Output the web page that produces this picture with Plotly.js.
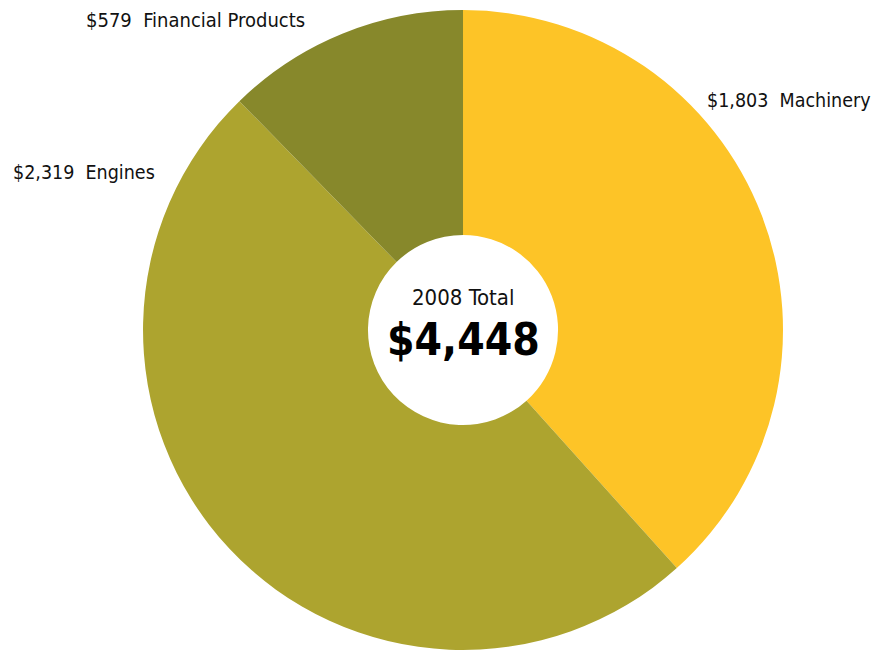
<!DOCTYPE html>
<html>
<head>
<meta charset="utf-8">
<script src="https://cdn.plot.ly/plotly-3.0.1.min.js"></script>
<style>html,body{margin:0;padding:0;background:#fff;}#chart{width:878px;height:650px;}</style>
</head>
<body>
<div id="chart"></div>
<script>
const segments = ["Machinery", "Engines", "Financial Products"];
const values = [1803, 2319, 579];
const valueLabels = ["$1,803", "$2,319", "$579"];
const colors = ["#FDC427", "#ADA42F", "#87882B"];
const totalYear = "2008 Total";
const totalLabel = "$4,448";

const FONT = "'Liberation Sans Narrow', 'DejaVu Sans Condensed', Roboto, sans-serif";

const trace = {
  type: "pie",
  labels: segments,
  values: values,
  sort: false,
  direction: "clockwise",
  rotation: 0,
  hole: 0.297,
  marker: {colors: colors, line: {width: 0}},
  textinfo: "none",
  hoverinfo: "label+value",
  showlegend: false,
  domain: {x: [0.1629, 0.8918], y: [0, 0.9846]}
};

const layout = {
  width: 878, height: 650,
  margin: {l: 0, r: 0, t: 0, b: 0},
  paper_bgcolor: "#ffffff",
  plot_bgcolor: "#ffffff",
  font: {family: FONT, color: "#111"},
  annotations: [
    {xref: "paper", yref: "paper", x: 873/878, y: 1 - 101/650, xanchor: "right", yanchor: "middle",
     text: valueLabels[0] + "  " + segments[0], showarrow: false, font: {size: 19.5, family: FONT, color: "#111"}},
    {xref: "paper", yref: "paper", x: 11/878, y: 1 - 172/650, xanchor: "left", yanchor: "middle",
     text: valueLabels[1] + "  " + segments[1], showarrow: false, font: {size: 19.5, family: FONT, color: "#111"}},
    {xref: "paper", yref: "paper", x: 84/878, y: 1 - 20/650, xanchor: "left", yanchor: "middle",
     text: valueLabels[2] + "  " + segments[2], showarrow: false, font: {size: 20, family: FONT, color: "#111"}},
    {xref: "paper", yref: "paper", x: 463/878, y: 1 - 297/650, xanchor: "center", yanchor: "middle",
     text: totalYear, showarrow: false, font: {size: 22, family: FONT, color: "#111"}},
    {xref: "paper", yref: "paper", x: 463/878, y: 1 - 339/650, xanchor: "center", yanchor: "middle",
     text: "<b>" + totalLabel + "</b>", showarrow: false, font: {size: 44, family: FONT, color: "#000"}}
  ]
};

Plotly.newPlot("chart", [trace], layout, {displayModeBar: false, staticPlot: true});
</script>
</body>
</html>
